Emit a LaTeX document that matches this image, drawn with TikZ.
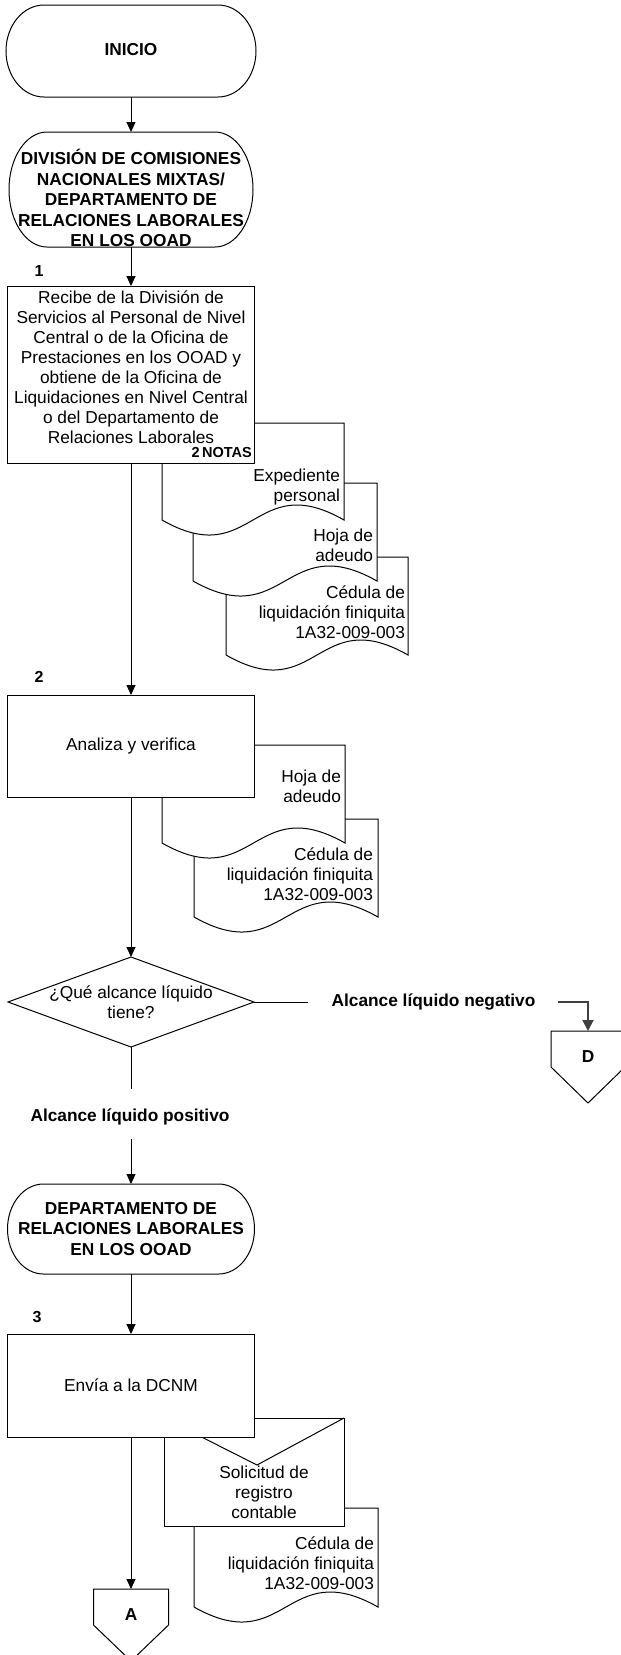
\documentclass[tikz,border=0pt]{standalone}
\usepackage{fontspec}
\setmainfont{Liberation Sans}
\usetikzlibrary{arrows.meta,shapes.geometric,calc}

% document symbol with a wavy lower edge: x0, y0 (top), x1, y1 (ends of the wave)
\newcommand\docshape[4]{%
  \filldraw[line, fill=white] (#1,#2) -- (#3,#2) -- (#3,#4)
    .. controls ({(#1+#3)/2},{#4-52}) and ({(#1+#3)/2},{#4+52}) .. (#1,#4) -- cycle;}

% terminator outline with elliptic ends: x0, y0, x1, y1, horizontal radius
\newcommand\termshape[5]{%
  \draw[line] ({#1+#5},#2) -- ({#3-#5},#2)
    arc[start angle=-90, end angle=90, x radius=#5, y radius={(#4-#2)/2}]
    -- ({#1+#5},#4)
    arc[start angle=90, end angle=270, x radius=#5, y radius={(#4-#2)/2}] -- cycle;}

\tikzset{
  line/.style={line width=1pt, draw=black},
  flow/.style={line, -{Triangle[length=10pt,width=9pt]}},
  darkflow/.style={line width=2pt, draw=darkline, -{Triangle[length=11pt,width=11pt]}},
  txt/.style={font=\fontsize{17.3}{20}\selectfont, inner sep=0, outer sep=0, align=center},
  btxt/.style={font=\bfseries\fontsize{17.3}{20.5}\selectfont, inner sep=0, outer sep=0, align=center},
  num/.style={font=\bfseries\fontsize{16}{18}\selectfont, inner sep=0},
  doctxt/.style={txt, align=right, anchor=east},
  area/.style={rectangle, inner sep=0, outer sep=0},
  procbox/.style={area, line, fill=white, minimum width=247pt, txt},
}
\definecolor{darkline}{HTML}{404040}

\begin{document}
\begin{tikzpicture}[x=1pt, y=-1pt]
\fill[white] (0,0) rectangle (621,1655);
\useasboundingbox (0,0) rectangle (621,1655);

% ---- start and first responsible unit
\termshape{6}{5}{256}{97}{38}
\node[area, minimum width=250pt, minimum height=92pt] (t0) at (131,51) {};
\node[btxt] (t0txt) at (131,50) {INICIO};

\termshape{9}{132}{253}{247}{38}
\node[area, minimum width=244pt, minimum height=115pt] (t1) at (131,189.5) {};
\node[btxt] (t1txt) at (131,198) {DIVISIÓN DE COMISIONES\\NACIONALES MIXTAS/\\DEPARTAMENTO DE\\RELACIONES LABORALES\\EN LOS OOAD};

% ---- step 1 documents (back to front)
\docshape{226}{557}{408}{655}
\node[doctxt] (d13) at (405,612) {Cédula de\\liquidación finiquita\\1A32-009-003};
\docshape{193}{483}{377}{581}
\node[doctxt] (d12) at (373,545) {Hoja de\\adeudo};
\docshape{162}{423}{344}{520}
\node[doctxt] (d11) at (340,487) {Expediente\\personal};

\node[num] (n1) at (39,271) {1};
\node[procbox, minimum height=177pt] (b1) at (131,374.5) {};
\node[txt] (b1txt) at (131,367) {Recibe de la División de\\Servicios al Personal de Nivel\\Central o de la Oficina de\\Prestaciones en los OOAD y\\obtiene de la Oficina de\\Liquidaciones en Nivel Central\\o del Departamento de\\Relaciones Laborales};
\node[num, font=\bfseries\fontsize{14.5}{17}\selectfont, anchor=east] (notas) at (252,453) {2\hspace{2.5pt}NOTAS};

% ---- step 2
\docshape{194}{819}{378}{917}
\node[doctxt] (d22) at (373,874) {Cédula de\\liquidación finiquita\\1A32-009-003};
\docshape{162}{745}{345}{843}
\node[doctxt] (d21) at (341,786.5) {Hoja de\\adeudo};

\node[num] (n2) at (39,677) {2};
\node[procbox, minimum height=102pt] (b2) at (131,746) {Analiza y verifica};

% ---- decision
\node[diamond, line, minimum width=246pt, minimum height=90pt, inner sep=0, outer sep=0] (dec) at (131,1002) {};
\node[txt] (dectxt) at (131,1002) {¿Qué alcance líquido\\tiene?};
\coordinate (negL) at (308,1002);
\node[btxt] (neg) at (433.5,1002) {Alcance líquido negativo};
\coordinate (negR) at (558,1002);

\node[area, minimum width=74pt, minimum height=72pt] (D) at (588,1067) {};
\draw[line] (D.north west) -- (D.north east) -- ++(0,36) -- (D.south)
  -- ($(D.north west)+(0,36)$) -- cycle;
\node[btxt] (Dtxt) at (588,1057) {D};

\coordinate (posT) at (131,1089);
\node[btxt] (pos) at (130,1117) {Alcance líquido positivo};
\coordinate (posB) at (131,1139);

% ---- second responsible unit
\termshape{7.5}{1184}{254.5}{1274}{36}
\node[area, minimum width=247pt, minimum height=90pt] (t2) at (131,1229) {};
\node[btxt] (t2txt) at (131,1229) {DEPARTAMENTO DE\\RELACIONES LABORALES\\EN LOS OOAD};

% ---- step 3
\docshape{194}{1508}{378}{1607}
\node[doctxt] (d32) at (374,1563) {Cédula de\\liquidación finiquita\\1A32-009-003};
\filldraw[line, fill=white] (164,1418) rectangle (344,1526);
\draw[line] (164,1418) -- (257,1465) -- (344,1418);
\node[txt] (d31) at (264,1492) {Solicitud de\\registro\\contable};

\node[num] (n3) at (37,1317) {3};
\node[procbox, minimum height=103pt] (b3) at (131,1385.5) {Envía a la DCNM};

\node[area, minimum width=75pt, minimum height=72pt] (A) at (131,1625) {};
\draw[line] (A.north west) -- (A.north east) -- ++(0,36) -- (A.south)
  -- ($(A.north west)+(0,36)$) -- cycle;
\node[btxt] (Atxt) at (131,1615) {A};

% ---- connectors
\draw[flow] (t0.south) -- (t1.north);
\draw[flow] (t1.south) -- (b1.north);
\draw[flow] (b1.south) -- (b2.north);
\draw[flow] (b2.south) -- (dec.north);
\draw[line] (dec.east) -- (negL);
\draw[darkflow] (negR) -| (D.north);
\draw[line] (dec.south) -- (posT);
\draw[flow] (posB) -- (t2.north);
\draw[flow] (t2.south) -- (b3.north);
\draw[flow] (b3.south) -- (A.north);
\end{tikzpicture}
\end{document}
